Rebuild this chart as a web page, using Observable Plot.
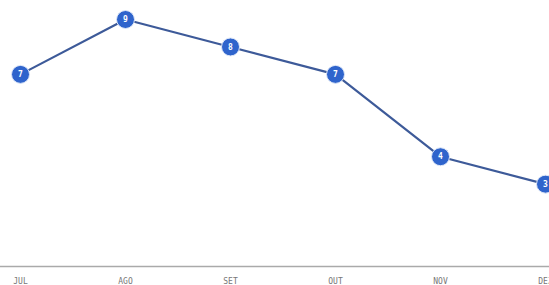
<!DOCTYPE html>
<html>
<head>
<meta charset="utf-8">
<script src="https://cdn.jsdelivr.net/npm/d3@7"></script>
<script src="https://cdn.jsdelivr.net/npm/@observablehq/plot@0.6"></script>
<style>
  html, body { margin: 0; padding: 0; background: #fff; }
</style>
</head>
<body>
<div id="chart"></div>
<script>
const months = ["JUL", "AGO", "SET", "OUT", "NOV", "DEZ"];
const values = [7, 9, 8, 7, 4, 3];

const data = months.map((m, i) => ({month: m, value: values[i]}));

const chart = Plot.plot({
  width: 549,
  height: 285,
  marginTop: 19,
  marginBottom: 19,
  marginLeft: 0,
  marginRight: 0,
  style: {background: "#fff", fontFamily: "DejaVu Sans Mono, monospace", overflow: "visible"},
  x: {type: "point", domain: months, range: [20, 545], padding: 0, label: null},
  y: {domain: [0, 9], axis: null},
  marks: [
    Plot.ruleY([0], {stroke: "#aaa", strokeWidth: 1.5}),
    Plot.axisX({tickSize: 0, tickPadding: 12, fontSize: 8, fill: "#777", label: null}),
    Plot.line(data, {x: "month", y: "value", stroke: "#3d5a99", strokeWidth: 2.2}),
    Plot.dot(data, {x: "month", y: "value", r: 9, fill: "#2f64cc", stroke: "#dfe8f8", strokeWidth: 1}),
    Plot.text(data, {x: "month", y: "value", text: d => String(d.value), fill: "#fff", fontSize: 8, fontWeight: "bold"})
  ]
});
document.getElementById("chart").appendChild(chart);
</script>
</body>
</html>
